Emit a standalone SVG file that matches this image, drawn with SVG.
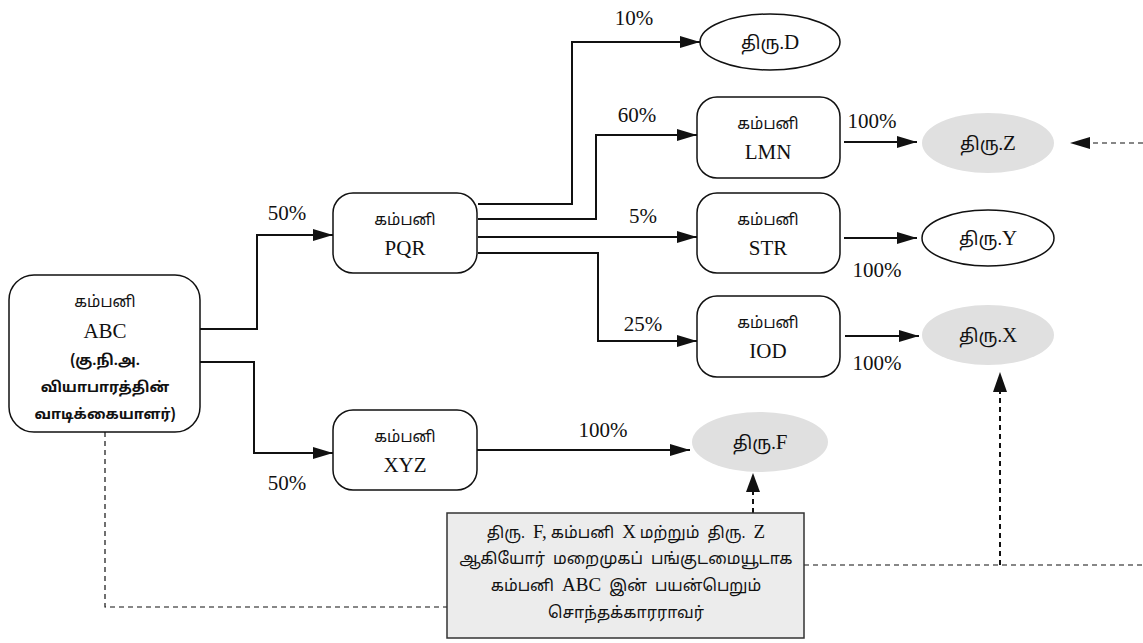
<svg xmlns="http://www.w3.org/2000/svg" width="1143" height="643" viewBox="0 0 1143 643">
<defs>
<marker id="ahb" viewBox="0 0 20 12" refX="20" refY="6" markerWidth="20" markerHeight="12" markerUnits="userSpaceOnUse" orient="auto"><path d="M0,0 L20,6 L0,12 z" fill="#111"/></marker>
<style>
.box{fill:#fff;stroke:#111;stroke-width:1.5}
.ell{fill:#fff;stroke:#111;stroke-width:1.5}
.gell{fill:#e0e0e0;stroke:none}
.note{fill:#ececec;stroke:#333;stroke-width:1.5}
.ln{fill:none;stroke:#111;stroke-width:2;marker-end:url(#ahb)}
.ds{fill:none;stroke:#111;stroke-width:1.2;stroke-dasharray:5,4}
.dsa{fill:none;stroke:#111;stroke-width:2;stroke-dasharray:5,4}
.lat{font-family:"Liberation Serif","Times New Roman",serif;font-size:21px;fill:#111;text-anchor:middle}
.tam{font-family:"Noto Sans Tamil","Noto Sans","Liberation Sans",sans-serif;font-size:15.5px;fill:#111;text-anchor:middle}
.tamb{font-family:"Noto Sans Tamil","Noto Sans","Liberation Sans",sans-serif;font-size:14.5px;font-weight:bold;fill:#111;text-anchor:middle}
.nt{font-family:"Liberation Serif","Noto Sans Tamil","Noto Sans",serif;font-size:18px;fill:#111;text-anchor:middle}
.nb{font-family:"Liberation Serif","Noto Sans Tamil","Noto Sans",serif;font-size:16px;fill:#111;text-anchor:middle;white-space:pre}
.L{font-size:21px}
.Lb{font-size:19px}
</style>
</defs>
<g id="connectors">
<polyline class="ln" points="200,329 257,329 257,235 333,235"/>
<polyline class="ln" points="200,362 254,362 254,453 333,453"/>
<polyline class="ln" points="478,204 572,204 572,42 700,42"/>
<polyline class="ln" points="478,219 596,219 596,135 697,135"/>
<polyline class="ln" points="478,237 697,237"/>
<polyline class="ln" points="478,253 598,253 598,341 697,341"/>
<polyline class="ln" points="844,142 917,142"/>
<polyline class="ln" points="844,238 917,238"/>
<polyline class="ln" points="845,336 919,336"/>
<polyline class="ln" points="477,450 690,450"/>
<polyline class="ds" points="105,432 105,607 447,607"/>
<polyline class="ds" points="804,565 1143,565"/>
<line class="dsa" x1="1000" y1="565" x2="1000" y2="392"/>
<path d="M993,392 L1000,372 L1007,392 z" fill="#111"/>
<line class="dsa" x1="753" y1="513" x2="753" y2="492"/>
<path d="M746,492 L753,473 L760,492 z" fill="#111"/>
<line class="ds" x1="1143" y1="143" x2="1090" y2="143"/>
<path d="M1090,137 L1070,143 L1090,149 z" fill="#111"/>
<text class="lat" x="287" y="220">50%</text>
<text class="lat" x="287" y="490">50%</text>
<text class="lat" x="634" y="25">10%</text>
<text class="lat" x="637" y="122">60%</text>
<text class="lat" x="643" y="223">5%</text>
<text class="lat" x="643" y="331">25%</text>
<text class="lat" x="872" y="128">100%</text>
<text class="lat" x="877" y="277">100%</text>
<text class="lat" x="877" y="370">100%</text>
<text class="lat" x="603" y="437">100%</text>
</g>
<g id="abc">
<rect class="box" x="9" y="275" width="191" height="157" rx="25"/>
<text class="tam" x="105" y="307">கம்பனி</text>
<text class="lat" x="105" y="338">ABC</text>
<text class="tamb" x="105" y="365">(கு.நி.அ.</text>
<text class="tamb" x="105" y="392">வியாபாரத்தின்</text>
<text class="tamb" x="105" y="419">வாடிக்கையாளர்)</text>
</g>
<g id="pqr">
<rect class="box" x="333" y="193" width="144" height="80" rx="20"/>
<text class="tam" x="405" y="225">கம்பனி</text>
<text class="lat" x="405" y="255">PQR</text>
</g>
<g id="xyz">
<rect class="box" x="333" y="410" width="144" height="80" rx="20"/>
<text class="tam" x="405" y="442">கம்பனி</text>
<text class="lat" x="405" y="472">XYZ</text>
</g>
<g id="lmn">
<rect class="box" x="697" y="97" width="143" height="81" rx="20"/>
<text class="tam" x="768" y="129">கம்பனி</text>
<text class="lat" x="768" y="159">LMN</text>
</g>
<g id="str">
<rect class="box" x="697" y="193" width="143" height="80" rx="20"/>
<text class="tam" x="768" y="225">கம்பனி</text>
<text class="lat" x="768" y="255">STR</text>
</g>
<g id="iod">
<rect class="box" x="697" y="296" width="143" height="81" rx="20"/>
<text class="tam" x="768" y="328">கம்பனி</text>
<text class="lat" x="768" y="358">IOD</text>
</g>
<g id="mrD">
<ellipse class="ell" cx="770" cy="42" rx="70" ry="28"/>
<text class="nt" x="770" y="49">திரு.<tspan class="L">D</tspan></text>
</g>
<g id="mrZ">
<ellipse class="gell" cx="988" cy="143" rx="66" ry="30"/>
<text class="nt" x="988" y="150">திரு.<tspan class="L">Z</tspan></text>
</g>
<g id="mrY">
<ellipse class="ell" cx="988" cy="238" rx="66" ry="28"/>
<text class="nt" x="988" y="245">திரு.<tspan class="L">Y</tspan></text>
</g>
<g id="mrX">
<ellipse class="gell" cx="988" cy="335" rx="66" ry="30"/>
<text class="nt" x="988" y="342">திரு.<tspan class="L">X</tspan></text>
</g>
<g id="mrF">
<ellipse class="gell" cx="760" cy="442" rx="68" ry="30"/>
<text class="nt" x="760" y="449">திரு.<tspan class="L">F</tspan></text>
</g>
<g id="note">
<rect class="note" x="447" y="513" width="357" height="125"/>
<text class="nb" x="626" y="538">திரு.  <tspan class="Lb">F,</tspan> கம்பனி  <tspan class="Lb">X</tspan> மற்றும்  திரு.  <tspan class="Lb">Z</tspan></text>
<text class="nb" x="626" y="564">ஆகியோர்  மறைமுகப்  பங்குடமையூடாக</text>
<text class="nb" x="626" y="591">கம்பனி  <tspan class="Lb">ABC</tspan>  இன்  பயன்பெறும்</text>
<text class="nb" x="626" y="618">சொந்தக்காரராவர்</text>
</g>
</svg>
